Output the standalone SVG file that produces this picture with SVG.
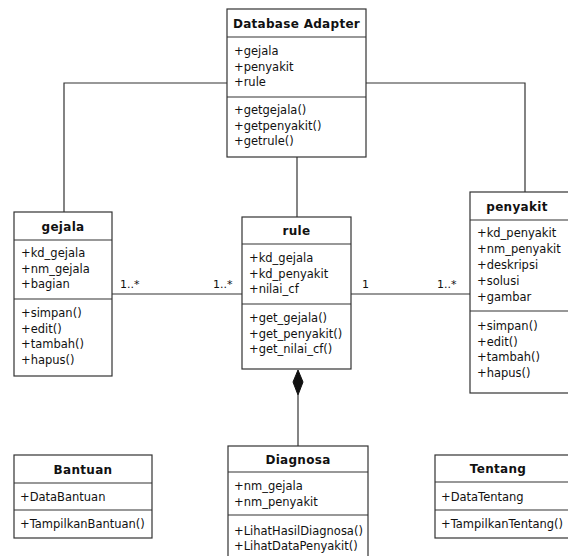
<svg xmlns="http://www.w3.org/2000/svg" width="568" height="556" viewBox="0 0 568 556">
<defs>
<style>
.box{fill:#fff;stroke:#333;stroke-width:1.2}
.sep{stroke:#333;stroke-width:1.2}
.conn{fill:none;stroke:#333;stroke-width:1.2}
text{font-family:"DejaVu Sans",Verdana,sans-serif;font-size:11.5px;fill:#111}
.t{font-weight:bold;font-size:12px;text-anchor:middle;letter-spacing:0.3px}
.lbl{font-size:11px}
</style>
</defs>
<rect width="568" height="556" fill="#fff"/>
<g id="connectors">
<polyline class="conn" points="227,83 64,83 64,212"/>
<polyline class="conn" points="366,83 525,83 525,192"/>
<line class="conn" x1="297" y1="157" x2="297" y2="217"/>
<line class="conn" x1="112" y1="294" x2="242" y2="294"/>
<line class="conn" x1="351" y1="294" x2="470" y2="294"/>
<line class="conn" x1="298" y1="395" x2="298" y2="446"/>
<polygon points="298,370 303,382 298,395 293,382" fill="#111" stroke="#111"/>
<text class="lbl" x="120" y="288">1..*</text>
<text class="lbl" x="213" y="288">1..*</text>
<text class="lbl" x="362" y="288">1</text>
<text class="lbl" x="437" y="288">1..*</text>
</g>
<g id="database-adapter">
<rect class="box" x="227" y="9" width="139" height="148"/>
<line class="sep" x1="227" y1="37" x2="366" y2="37"/>
<line class="sep" x1="227" y1="97" x2="366" y2="97"/>
<text class="t" x="296.5" y="27.5">Database Adapter</text>
<text x="234" y="55">+gejala</text>
<text x="234" y="70.5">+penyakit</text>
<text x="234" y="86">+rule</text>
<text x="234" y="114">+getgejala()</text>
<text x="234" y="129.5">+getpenyakit()</text>
<text x="234" y="145">+getrule()</text>
</g>
<g id="gejala">
<rect class="box" x="14" y="212" width="98" height="164"/>
<line class="sep" x1="14" y1="240" x2="112" y2="240"/>
<line class="sep" x1="14" y1="299" x2="112" y2="299"/>
<text class="t" x="63" y="230.5">gejala</text>
<text x="21" y="257">+kd_gejala</text>
<text x="21" y="272.5">+nm_gejala</text>
<text x="21" y="288">+bagian</text>
<text x="21" y="317">+simpan()</text>
<text x="21" y="332.5">+edit()</text>
<text x="21" y="348">+tambah()</text>
<text x="21" y="363.5">+hapus()</text>
</g>
<g id="rule">
<rect class="box" x="242" y="217" width="109" height="152"/>
<line class="sep" x1="242" y1="244" x2="351" y2="244"/>
<line class="sep" x1="242" y1="304" x2="351" y2="304"/>
<text class="t" x="296.5" y="235">rule</text>
<text x="249" y="262">+kd_gejala</text>
<text x="249" y="277.5">+kd_penyakit</text>
<text x="249" y="293">+nilai_cf</text>
<text x="249" y="322">+get_gejala()</text>
<text x="249" y="337.5">+get_penyakit()</text>
<text x="249" y="353">+get_nilai_cf()</text>
</g>
<g id="penyakit">
<rect class="box" x="470" y="192" width="110" height="201"/>
<line class="sep" x1="470" y1="220" x2="580" y2="220"/>
<line class="sep" x1="470" y1="311" x2="580" y2="311"/>
<text class="t" x="517" y="210.5">penyakit</text>
<text x="477" y="237">+kd_penyakit</text>
<text x="477" y="253">+nm_penyakit</text>
<text x="477" y="269">+deskripsi</text>
<text x="477" y="285">+solusi</text>
<text x="477" y="301">+gambar</text>
<text x="477" y="330">+simpan()</text>
<text x="477" y="345.5">+edit()</text>
<text x="477" y="361">+tambah()</text>
<text x="477" y="376.5">+hapus()</text>
</g>
<g id="bantuan">
<rect class="box" x="14" y="455" width="138" height="83"/>
<line class="sep" x1="14" y1="483" x2="152" y2="483"/>
<line class="sep" x1="14" y1="510" x2="152" y2="510"/>
<text class="t" x="83" y="473.5">Bantuan</text>
<text x="20" y="500.5">+DataBantuan</text>
<text x="20" y="528">+TampilkanBantuan()</text>
</g>
<g id="diagnosa">
<rect class="box" x="228" y="446" width="140" height="116"/>
<line class="sep" x1="228" y1="472" x2="368" y2="472"/>
<line class="sep" x1="228" y1="515" x2="368" y2="515"/>
<text class="t" x="298" y="463.5">Diagnosa</text>
<text x="234" y="490">+nm_gejala</text>
<text x="234" y="505.5">+nm_penyakit</text>
<text x="234" y="535">+LihatHasilDiagnosa()</text>
<text x="234" y="550">+LihatDataPenyakit()</text>
</g>
<g id="tentang">
<rect class="box" x="435" y="455" width="140" height="83"/>
<line class="sep" x1="435" y1="482" x2="575" y2="482"/>
<line class="sep" x1="435" y1="510" x2="575" y2="510"/>
<text class="t" x="498" y="473">Tentang</text>
<text x="441" y="500.5">+DataTentang</text>
<text x="441" y="528">+TampilkanTentang()</text>
</g>
</svg>
